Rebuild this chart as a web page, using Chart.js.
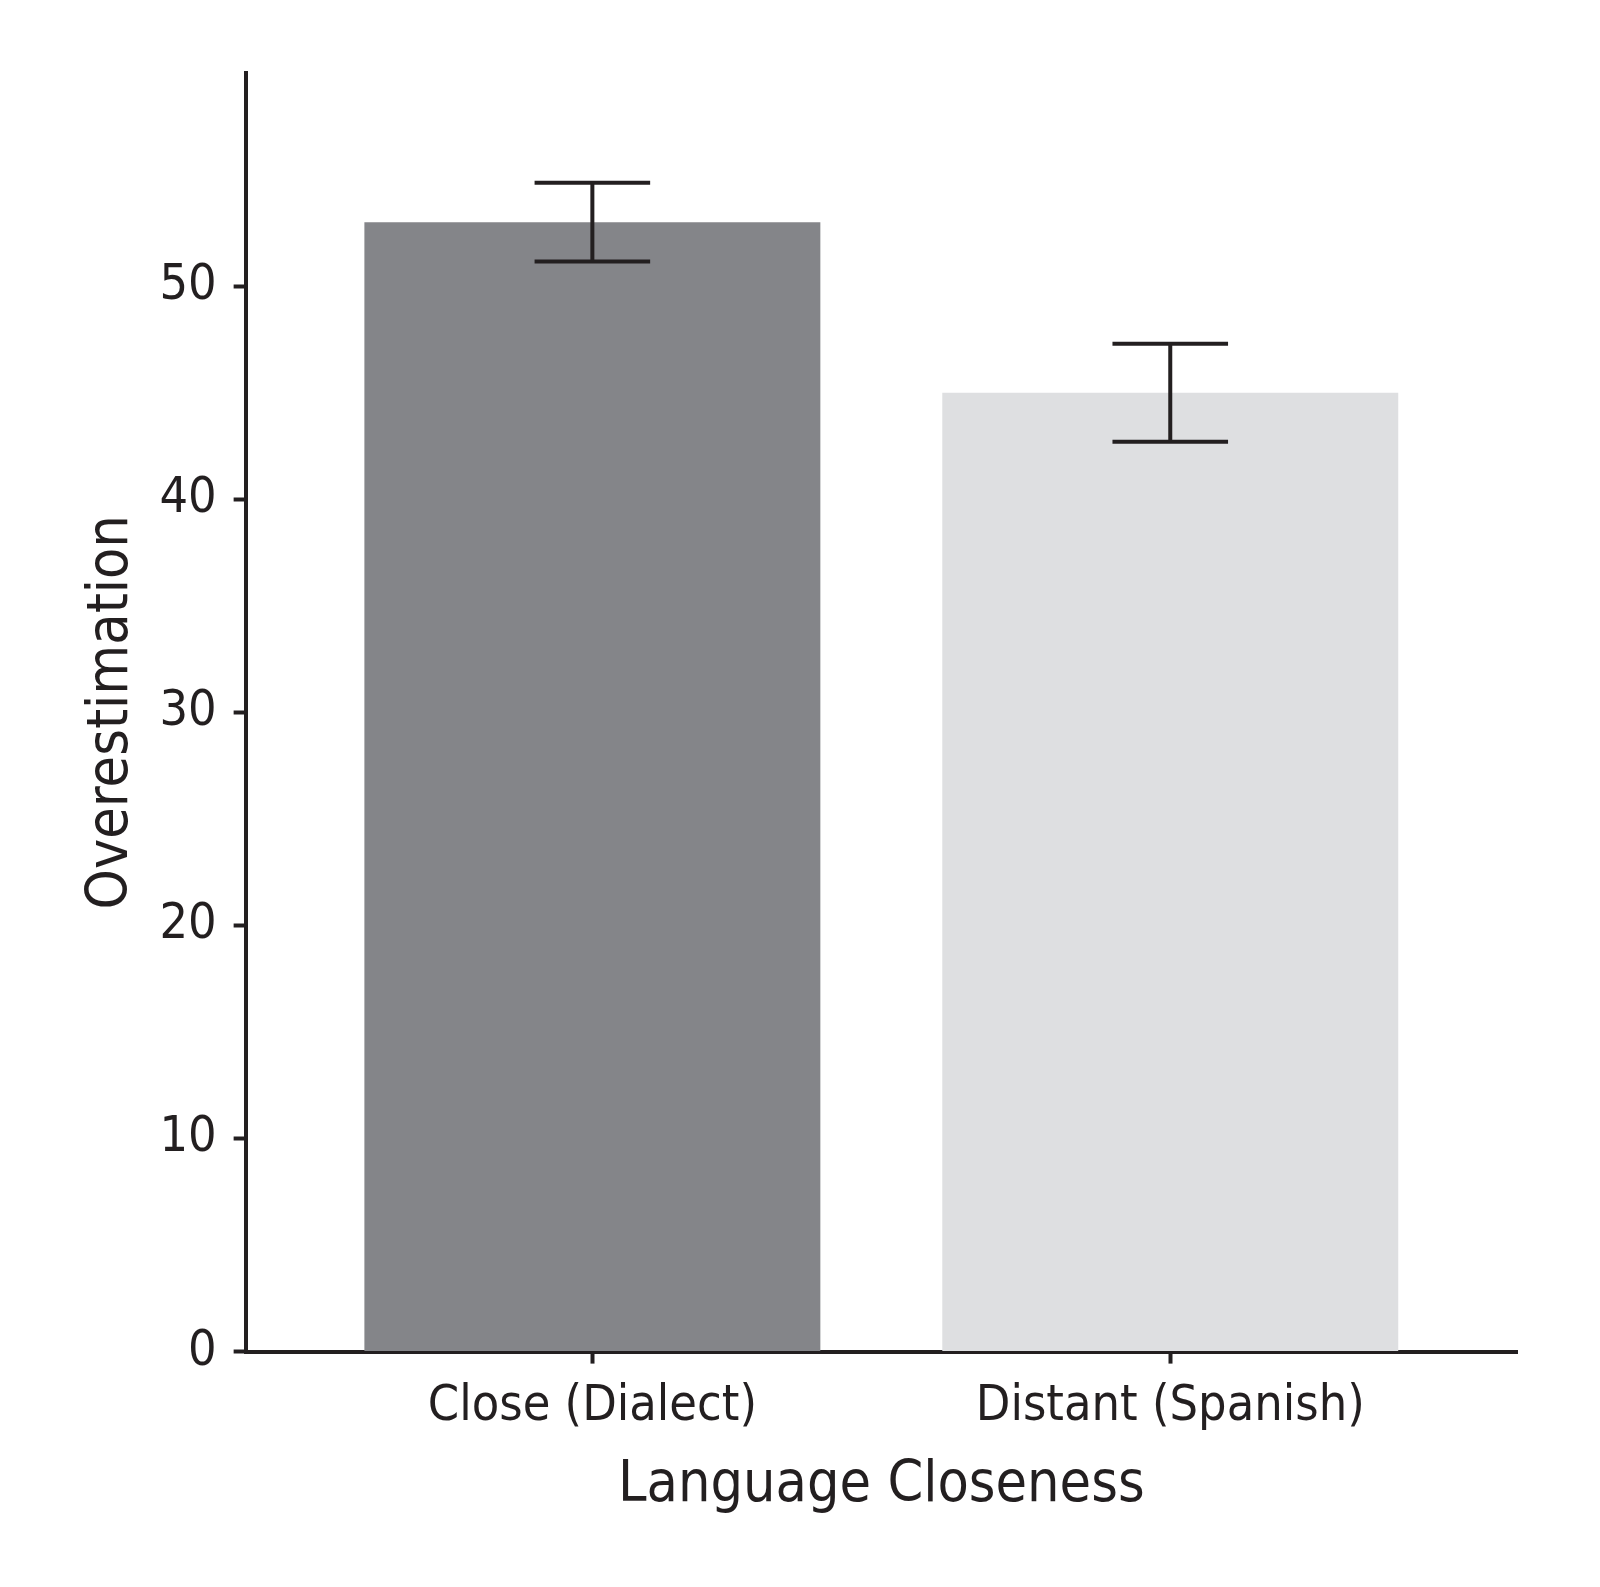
<!DOCTYPE html>
<html>
<head>
<meta charset="utf-8">
<script src="https://cdn.jsdelivr.net/npm/chart.js@4.4.1/dist/chart.umd.min.js"></script>
<style>
  html, body { margin: 0; padding: 0; background: #fff; }
  #wrap { width: 1600px; height: 1587px; }
</style>
</head>
<body>
<div id="wrap"><canvas id="barChart"></canvas></div>
<script>
// data
const categories = ['Close (Dialect)', 'Distant (Spanish)']
const positions = [0, 1]
const overestimation = [53.0, 45.0]
const errors = [1.85, 2.3]
const barColors = ['#848589', '#dedfe1']
const yTicks = [0, 10, 20, 30, 40, 50]

const ink = '#231f20'
Chart.defaults.font.family = "'Liberation Sans Narrow', 'DejaVu Sans Condensed', sans-serif"
Chart.defaults.color = ink

// whiskers drawn with the chart's own scales
const errorBars = {
  id: 'errorBars',
  afterDatasetsDraw(chart) {
    const ctx = chart.ctx
    const x = chart.scales.x
    const y = chart.scales.y
    ctx.save()
    ctx.strokeStyle = ink
    ctx.lineWidth = 4
    positions.forEach((p, i) => {
      const cx = x.getPixelForValue(p)
      const half = x.getPixelForValue(p + 0.1) - cx
      const top = y.getPixelForValue(overestimation[i] + errors[i])
      const bot = y.getPixelForValue(overestimation[i] - errors[i])
      ctx.beginPath()
      ctx.moveTo(cx, top); ctx.lineTo(cx, bot)
      ctx.moveTo(cx - half, top); ctx.lineTo(cx + half, top)
      ctx.moveTo(cx - half, bot); ctx.lineTo(cx + half, bot)
      ctx.stroke()
    })
    ctx.restore()
  }
}

const ctx = document.getElementById('barChart').getContext('2d')
new Chart(ctx, {
  type: 'bar',
  data: {
    datasets: [{
      data: positions.map((p, i) => ({ x: p, y: overestimation[i] })),
      backgroundColor: barColors,
      borderWidth: 0,
      categoryPercentage: 1,
      barPercentage: 0.789
    }]
  },
  options: {
    responsive: true,
    maintainAspectRatio: false,
    animation: false,
    layout: { padding: { top: 73, right: 83, bottom: 67, left: 78 } },
    plugins: { legend: { display: false }, tooltip: { enabled: false } },
    scales: {
      x: {
        type: 'linear',
        min: -0.6,
        max: 1.6,
        offset: false,
        afterBuildTicks: axis => { axis.ticks = positions.map(v => ({ value: v })) },
        grid: { offset: false, drawOnChartArea: false, tickLength: 12, tickWidth: 4, tickColor: ink },
        border: { color: ink, width: 4 },
        ticks: {
          callback: v => categories[v],
          font: { size: 50 },
          padding: 13,
          maxRotation: 0
        },
        title: {
          display: true,
          text: 'Language Closeness',
          font: { size: 57 },
          padding: { top: 2, bottom: 0 }
        }
      },
      y: {
        min: 0,
        max: 60,
        afterBuildTicks: axis => { axis.ticks = yTicks.map(v => ({ value: v })) },
        grid: { drawOnChartArea: false, tickLength: 12, tickWidth: 4, tickColor: ink },
        border: { color: ink, width: 4 },
        ticks: { font: { size: 50 }, padding: 17 },
        title: {
          display: true,
          text: 'Overestimation',
          font: { size: 57 },
          padding: { top: 0, bottom: -4 }
        }
      }
    }
  },
  plugins: [errorBars]
})
</script>
</body>
</html>
